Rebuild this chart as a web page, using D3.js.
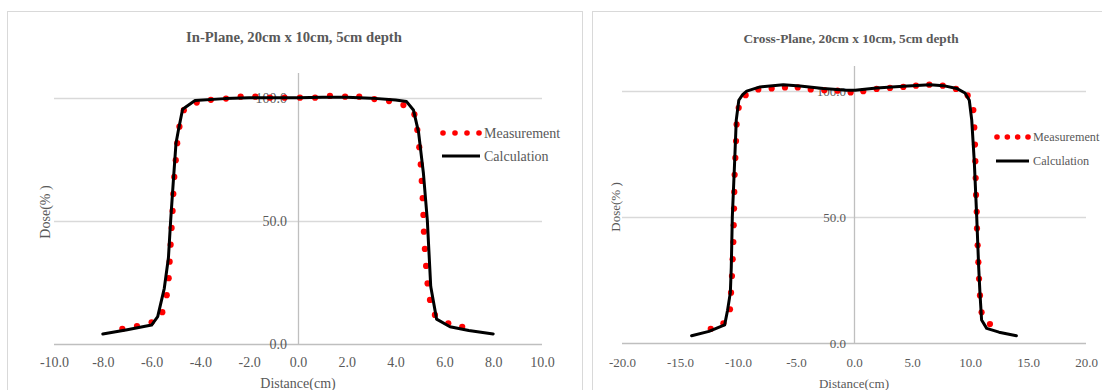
<!DOCTYPE html>
<html>
<head>
<meta charset="utf-8">
<script src="https://cdn.jsdelivr.net/npm/d3@7"></script>
<style>
  html, body { margin: 0; padding: 0; background: #fff; }
  svg { display: block; }
  text { font-family: "Liberation Serif", "Times New Roman", serif; fill: #595959; }
</style>
</head>
<body>
<svg id="chart" width="1102" height="390"></svg>
<script>
// ---------- In-Plane data ----------
const inMeasX = [-7.2, -6.6, -6.0, -5.56, -5.38, -5.3, -5.26, -5.22, -5.18, -5.14, -5.11, -5.07, -5.01, -4.95, -4.86, -4.68, -4.15, -3.57, -2.95, -2.35, -1.75, -1.15, -0.55, 0.08, 0.7, 1.31, 1.93, 2.51, 3.13, 3.73, 4.32, 4.77, 4.89, 4.97, 5.03, 5.07, 5.11, 5.14, 5.16, 5.2, 5.25, 5.31, 5.41, 5.61, 6.16, 6.73];
const inMeasY = [6.1, 7.3, 8.8, 12.9, 19.8, 26.7, 33.4, 40.3, 47.1, 54.0, 60.9, 67.8, 74.6, 81.5, 88.2, 94.9, 98.0, 99.1, 99.6, 100.4, 100.4, 100.0, 100.0, 100.0, 100.0, 100.7, 100.4, 100.4, 99.4, 98.6, 97.0, 93.2, 86.9, 79.9, 72.9, 66.2, 59.2, 52.4, 45.6, 38.6, 31.7, 24.6, 17.9, 11.8, 8.4, 7.0];
const inCalcX = [-8.0, -7.0, -6.0, -5.75, -5.48, -5.31, -5.22, -5.11, -5.0, -4.9, -4.73, -4.22, -3.0, -2.0, -1.0, 0.0, 1.0, 2.0, 3.0, 4.0, 4.45, 4.73, 4.94, 5.14, 5.3, 5.44, 5.68, 6.23, 7.0, 8.0];
const inCalcY = [4.1, 5.8, 7.7, 11.1, 22.6, 35.0, 50.0, 66.0, 81.5, 86.9, 95.3, 98.8, 99.6, 100.0, 100.0, 100.0, 100.2, 100.2, 99.8, 99.0, 98.4, 95.0, 86.0, 69.3, 50.3, 23.3, 10.1, 7.0, 5.5, 4.1];

// ---------- Cross-Plane data ----------
const crossMeasX = [-12.35, -11.26, -10.69, -10.6, -10.52, -10.46, -10.4, -10.37, -10.34, -10.32, -10.29, -10.23, -10.17, -10.12, -9.94, -9.34, -8.25, -7.1, -5.95, -4.85, -3.73, -2.56, -1.42, -0.29, 0.8, 1.95, 3.1, 4.25, 5.34, 6.49, 7.65, 8.79, 9.8, 10.29, 10.37, 10.43, 10.46, 10.49, 10.52, 10.58, 10.6, 10.66, 10.72, 10.78, 10.86, 11.0, 11.72];
const crossMeasY = [5.6, 7.8, 13.4, 20.0, 26.6, 33.3, 40.1, 46.8, 53.4, 60.0, 66.8, 73.5, 80.2, 86.8, 93.4, 98.4, 100.7, 101.1, 101.5, 101.5, 100.7, 100.4, 100.2, 99.5, 100.0, 100.9, 101.3, 101.7, 102.2, 102.6, 102.2, 100.9, 98.3, 92.5, 85.6, 78.8, 72.2, 65.5, 58.8, 52.1, 45.5, 38.8, 32.1, 25.5, 18.9, 12.2, 7.5];
const crossCalcX = [-14.0, -12.5, -11.15, -10.9, -10.66, -10.58, -10.49, -10.29, -10.15, -9.93, -9.6, -9.25, -8.1, -6.1, -4.66, -2.65, -0.63, 0.1, 1.95, 4.25, 6.55, 7.7, 8.85, 9.57, 9.94, 10.15, 10.37, 10.58, 10.75, 10.86, 11.0, 11.44, 12.5, 14.0];
const crossCalcY = [2.9, 4.6, 7.2, 13.0, 20.0, 30.0, 50.0, 72.0, 88.5, 96.4, 98.6, 100.0, 101.7, 102.6, 102.1, 101.1, 100.4, 100.4, 101.3, 102.0, 102.6, 102.2, 101.1, 99.3, 96.4, 88.5, 72.0, 50.0, 30.0, 19.7, 9.1, 5.8, 4.3, 2.9];

// ---------- Axis ticks / labels ----------
const inXTicks = [-10, -8, -6, -4, -2, 0, 2, 4, 6, 8, 10];
const crossXTicks = [-20, -15, -10, -5, 0, 5, 10, 15, 20];
const yTicks = [0, 50, 100];
const titles = ["In-Plane, 20cm x 10cm, 5cm depth", "Cross-Plane, 20cm x 10cm, 5cm depth"];
const seriesNames = ["Measurement", "Calculation"];
const xAxisTitle = "Distance(cm)";
const yAxisTitle = "Dose(% )";

const svg = d3.select("#chart");
const fmt = d => d3.format(".1f")(d).replace("\u2212", "-");

function drawPanel(cfg) {
  const g = svg.append("g");
  const fs = cfg.fs;
  // panel border
  g.append("rect")
    .attr("x", cfg.box[0] + 0.5).attr("y", cfg.box[1] + 0.5)
    .attr("width", cfg.box[2]).attr("height", cfg.box[3])
    .attr("fill", "#fff").attr("stroke", "#d9d9d9").attr("stroke-width", 1);

  const x = d3.scaleLinear().domain(cfg.xDomain).range(cfg.xRange);
  const y = d3.scaleLinear().domain([0, 110]).range(cfg.yRange);

  // horizontal gridlines
  g.append("g").selectAll("line").data(yTicks).join("line")
    .attr("x1", cfg.xRange[0]).attr("x2", cfg.xRange[1])
    .attr("y1", d => Math.round(y(d)) + 0.5).attr("y2", d => Math.round(y(d)) + 0.5)
    .attr("stroke", d => d === 0 ? "#bfbfbf" : "#d9d9d9").attr("stroke-width", 1.3);

  // vertical axis line at x = 0
  g.append("line")
    .attr("x1", Math.round(x(0)) + 0.5).attr("x2", Math.round(x(0)) + 0.5)
    .attr("y1", y(0)).attr("y2", y(110))
    .attr("stroke", "#bfbfbf").attr("stroke-width", 1.3);

  // x axis labels
  const xa = g.append("g")
    .attr("transform", `translate(0,${cfg.xLabelY})`)
    .call(d3.axisBottom(x).tickValues(cfg.xTicks).tickFormat(fmt).tickSize(0).tickPadding(0));
  xa.select(".domain").remove();
  xa.selectAll("text").attr("font-size", fs).attr("font-family", "Liberation Serif").attr("fill", "#595959").attr("dy", "0.35em");

  // y axis labels (at the vertical axis)
  const ya = g.append("g")
    .attr("transform", `translate(${x(0) - cfg.yLabelGap},0)`)
    .call(d3.axisLeft(y).tickValues(yTicks).tickFormat(fmt).tickSize(0).tickPadding(0));
  ya.select(".domain").remove();
  ya.selectAll("text").attr("font-size", fs).attr("font-family", "Liberation Serif").attr("fill", "#595959");

  // measurement dots
  const meas = cfg.measX.map((v, i) => [v, cfg.measY[i]]);
  g.append("g").selectAll("circle").data(meas).join("circle")
    .attr("cx", d => x(d[0])).attr("cy", d => y(d[1]))
    .attr("r", 3.1).attr("fill", "#ff0000");

  // calculation line
  const calc = cfg.calcX.map((v, i) => [v, cfg.calcY[i]]);
  g.append("path").datum(calc)
    .attr("d", d3.line().x(d => x(d[0])).y(d => y(d[1])))
    .attr("fill", "none").attr("stroke", "#000").attr("stroke-width", 3)
    .attr("stroke-linejoin", "round").attr("stroke-linecap", "round");

  // title
  g.append("text").attr("x", cfg.titleX).attr("y", cfg.titleY)
    .attr("text-anchor", "middle").attr("dy", "0.35em")
    .attr("font-size", cfg.titleFs).attr("font-weight", "bold").text(cfg.title);

  // axis titles
  g.append("text").attr("x", x(0)).attr("y", 383).attr("text-anchor", "middle")
    .attr("dy", "0.35em").attr("font-size", fs).text(xAxisTitle);
  g.append("text").attr("transform", `translate(${cfg.yTitleX},${cfg.yTitleY}) rotate(-90)`)
    .attr("text-anchor", "middle").attr("dy", "0.35em").attr("font-size", fs).text(yAxisTitle);

  // legend
  const L = cfg.legend;
  const dotXs = d3.range(4).map(i => L.x0 + i * (L.x1 - L.x0) / 3);
  g.append("g").selectAll("circle").data(dotXs).join("circle")
    .attr("cx", d => d).attr("cy", L.y1).attr("r", 2.8).attr("fill", "#ff0000");
  g.append("text").attr("x", L.tx).attr("y", L.y1).attr("dy", "0.35em")
    .attr("font-size", L.fs || fs).text(seriesNames[0]);
  g.append("line").attr("x1", L.x0 - 1).attr("x2", L.x1 + 1)
    .attr("y1", L.y2).attr("y2", L.y2).attr("stroke", "#000").attr("stroke-width", 3);
  g.append("text").attr("x", L.tx).attr("y", L.y2).attr("dy", "0.35em")
    .attr("font-size", L.fs || fs).text(seriesNames[1]);
}

drawPanel({
  box: [7, 11, 575, 400], fs: 14, titleFs: 14.7,
  xDomain: [-10, 10], xRange: [54, 542], yRange: [344, 73],
  xTicks: inXTicks, xLabelY: 362, yLabelGap: 11,
  measX: inMeasX, measY: inMeasY, calcX: inCalcX, calcY: inCalcY,
  title: titles[0], titleX: 294, titleY: 37,
  yTitleX: 45, yTitleY: 212,
  legend: { x0: 443, x1: 479, tx: 484, y1: 133, y2: 156 }
});

drawPanel({
  box: [592, 11, 520, 400], fs: 13, titleFs: 13.3,
  xDomain: [-20, 20], xRange: [622, 1086], yRange: [343, 66],
  xTicks: crossXTicks, xLabelY: 362, yLabelGap: 8,
  measX: crossMeasX, measY: crossMeasY, calcX: crossCalcX, calcY: crossCalcY,
  title: titles[1], titleX: 851, titleY: 38,
  yTitleX: 615, yTitleY: 207,
  legend: { x0: 997, x1: 1028, tx: 1033, y1: 137, y2: 161, fs: 12.2 }
});
</script>
</body>
</html>
